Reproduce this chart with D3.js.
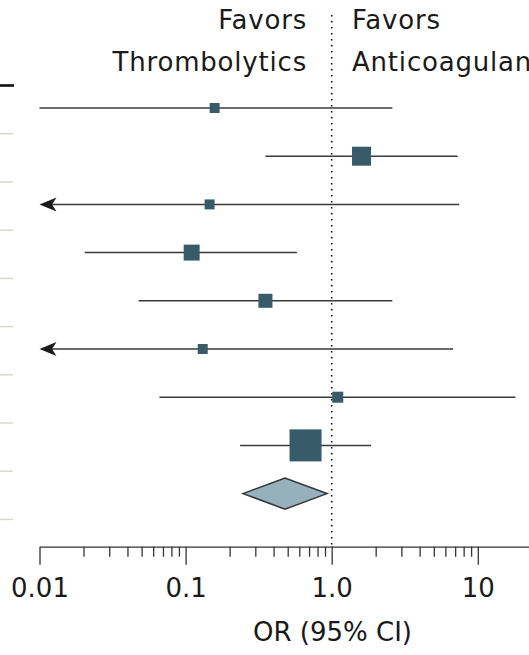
<!DOCTYPE html>
<html>
<head>
<meta charset="utf-8">
<script src="https://cdn.jsdelivr.net/npm/d3@7"></script>
<style>
  html, body { margin: 0; padding: 0; background: #fff; }
  svg { display: block; }
</style>
</head>
<body>
<div id="chart"></div>
<script>
// ---- data ----
const studyIndex = [1, 2, 3, 4, 5, 6, 7, 8];
const oddsRatio  = [0.158, 1.60, 0.146, 0.110, 0.352, 0.131, 1.10, 0.662];
const ciLower    = [0.0100, 0.352, 0.006, 0.0204, 0.0477, 0.005, 0.0662, 0.236];
const ciUpper    = [2.60, 7.28, 7.46, 0.578, 2.60, 6.78, 18.1, 1.86];
const weightPct  = [4.4, 16.0, 4.4, 11.3, 8.7, 4.4, 5.4, 45.4];
const pooledOR   = 0.479;
const pooledLower = 0.247;
const pooledUpper = 0.929;
const majorTicks = [0.01, 0.1, 1, 10];
const majorTickLabels = ["0.01", "0.1", "1.0", "10"];
const minorTicks = [0.02,0.03,0.04,0.05,0.06,0.07,0.08,0.09,
                    0.2,0.3,0.4,0.5,0.6,0.7,0.8,0.9,
                    2,3,4,5,6,7,8,9];
const headerLeft = ["Favors", "Thrombolytics"];
const headerRight = ["Favors", "Anticoagulants"];
const axisTitle = "OR (95% CI)";

// ---- layout ----
const W = 529, H = 655;
const axisY = 546.7;
const font = "'DejaVu Sans', sans-serif";

const svg = d3.select("#chart").append("svg")
  .attr("width", W).attr("height", H)
  .style("background", "#fff");

const x = d3.scaleLog().domain([0.01, 100]).range([39.5, 39.5 + 146.1 * 4]);
const nRows = studyIndex.length + 1;
const y = d3.scalePoint().domain(d3.range(nRows)).range([108, 108 + 48.2 * (nRows - 1)]);
const side = d3.scaleSqrt().domain([0, d3.max(weightPct)]).range([0, 32]);

// left-edge row separators (remnants of the table)
svg.append("g").selectAll("line")
  .data(d3.range(nRows))
  .join("line")
  .attr("x1", 0).attr("x2", 13)
  .attr("y1", i => y(i) + 25.8).attr("y2", i => y(i) + 25.8)
  .attr("stroke", "#d9d8d0").attr("stroke-width", 1.5);

svg.append("line")
  .attr("x1", 0).attr("x2", 14)
  .attr("y1", 85.5).attr("y2", 85.5)
  .attr("stroke", "#111").attr("stroke-width", 2.6);

// null line
svg.append("line")
  .attr("x1", x(1)).attr("x2", x(1))
  .attr("y1", 15).attr("y2", axisY)
  .attr("stroke", "#111").attr("stroke-width", 1.6)
  .attr("stroke-dasharray", "1.6,4.4");

// header text
const hdr = svg.append("g").attr("font-family", font).attr("font-size", 26)
  .attr("fill", "#1a1a1a").attr("letter-spacing", 0.8);
headerLeft.forEach((t, i) => {
  hdr.append("text").attr("x", 307).attr("y", 29 + i * 42)
    .attr("text-anchor", "end").text(t);
});
headerRight.forEach((t, i) => {
  hdr.append("text").attr("x", 352).attr("y", 29 + i * 42)
    .attr("text-anchor", "start").text(t);
});

// CI lines
const xmin = x.domain()[0];
const rowsG = svg.append("g");
studyIndex.forEach((s, i) => {
  const lo = Math.max(ciLower[i], xmin);
  rowsG.append("line")
    .attr("x1", x(lo) + (ciLower[i] < xmin ? 8 : 0)).attr("x2", x(ciUpper[i]))
    .attr("y1", y(i)).attr("y2", y(i))
    .attr("stroke", "#3a3a3a").attr("stroke-width", 1.5);
  if (ciLower[i] < xmin) {
    const tx = x(xmin), ty = y(i);
    rowsG.append("path")
      .attr("d", `M${tx},${ty} L${tx + 17},${ty - 7} L${tx + 12.5},${ty} L${tx + 17},${ty + 7} Z`)
      .attr("fill", "#1a1a1a");
  }
  const s2 = side(weightPct[i]);
  rowsG.append("rect")
    .attr("x", x(oddsRatio[i]) - s2 / 2).attr("y", y(i) - s2 / 2)
    .attr("width", s2).attr("height", s2)
    .attr("fill", "#385b69");
});

// pooled diamond
const py = y(nRows - 1);
svg.append("path")
  .attr("d", `M${x(pooledLower)},${py} L${x(pooledOR)},${py - 15.5} L${x(pooledUpper)},${py} L${x(pooledOR)},${py + 15.5} Z`)
  .attr("fill", "#96b1bc").attr("stroke", "#333").attr("stroke-width", 1.5);

// axis
const axMinor = svg.append("g").attr("transform", `translate(0,${axisY})`)
  .call(d3.axisBottom(x).tickValues(minorTicks).tickSize(10).tickSizeOuter(0).tickFormat(""));
axMinor.select(".domain").remove();
axMinor.selectAll(".tick line").attr("stroke", "#333").attr("stroke-width", 1.3);

const axMajor = svg.append("g").attr("transform", `translate(0,${axisY})`)
  .call(d3.axisBottom(x).tickValues(majorTicks).tickSize(18).tickSizeOuter(0)
    .tickFormat((d, i) => majorTickLabels[i]));
axMajor.select(".domain").attr("stroke", "#333").attr("stroke-width", 1.3);
axMajor.selectAll(".tick line").attr("stroke", "#333").attr("stroke-width", 1.3);
axMajor.selectAll(".tick text")
  .attr("y", 50).attr("dy", 0)
  .attr("font-family", font).attr("font-size", 26).attr("fill", "#1a1a1a");

svg.append("text")
  .attr("x", 332.5).attr("y", 641)
  .attr("text-anchor", "middle")
  .attr("font-family", font).attr("font-size", 26).attr("fill", "#1a1a1a")
  .text(axisTitle);
</script>
</body>
</html>
